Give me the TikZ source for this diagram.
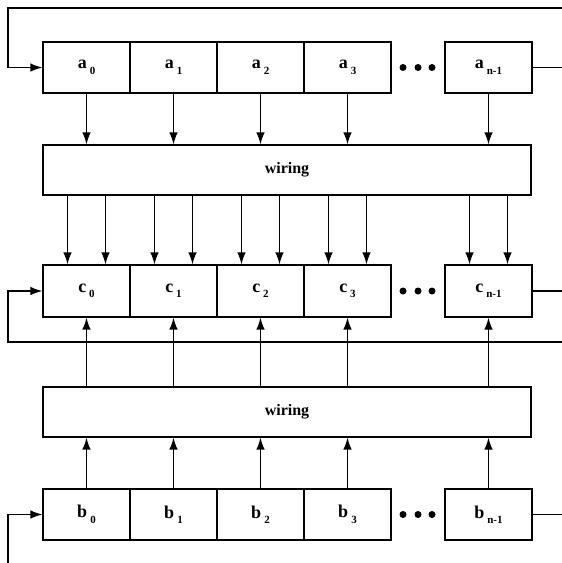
\documentclass[tikz,border=0pt]{standalone}
\usepackage{fontspec}
\setmainfont{Liberation Serif}
\usetikzlibrary{arrows.meta,calc}

% register cell label: bold letter with a lowered, spaced subscript
\newcommand{\reglab}[2]{\textbf{#1}\hspace{3pt}\raisebox{-5.5pt}{\fontsize{11}{11}\selectfont\bfseries #2}}

\begin{document}
\begin{tikzpicture}[x=1pt,y=-1pt,
  cell/.style={draw,line width=1.1pt,minimum width=87pt,minimum height=51pt,inner sep=0pt,
    font=\fontsize{18}{18}\selectfont},
  wirebox/.style={draw,line width=1.1pt,minimum width=488pt,minimum height=50pt,inner sep=0pt,
    font=\fontsize{16}{16}\selectfont\bfseries},
  arr/.style={line width=1.5pt,-{Latex[length=12pt,width=8.5pt]}},
  wire/.style={line width=1.4pt},
  dot/.style={fill,circle,inner sep=0pt,minimum size=7pt}]
\useasboundingbox (0,0) rectangle (562,563);

% ---- register a ----
\node[cell] (a0) at (86.5,67.5) {\reglab{a}{0}};
\node[cell] (a1) at (173.5,67.5) {\reglab{a}{1}};
\node[cell] (a2) at (260.5,67.5) {\reglab{a}{2}};
\node[cell] (a3) at (347.5,67.5) {\reglab{a}{3}};
\node[cell] (an) at (488.5,67.5) {\reglab{a}{n-1}};
\node[dot] (ad1) at (403,67.5) {};
\node[dot] (ad2) at (418,67.5) {};
\node[dot] (ad3) at (432,67.5) {};

% ---- wiring a -> c ----
\node[wirebox] (w1) at (287,170) {wiring};

% ---- register c ----
\node[cell,minimum height=52pt] (c0) at (86.5,291) {\reglab{c}{0}};
\node[cell,minimum height=52pt] (c1) at (173.5,291) {\reglab{c}{1}};
\node[cell,minimum height=52pt] (c2) at (260.5,291) {\reglab{c}{2}};
\node[cell,minimum height=52pt] (c3) at (347.5,291) {\reglab{c}{3}};
\node[cell,minimum height=52pt] (cn) at (488.5,291) {\reglab{c}{n-1}};
\node[dot] (cd1) at (403,291) {};
\node[dot] (cd2) at (418,291) {};
\node[dot] (cd3) at (432,291) {};

% ---- wiring b -> c ----
\node[wirebox] (w2) at (287,412) {wiring};

% ---- register b ----
\node[cell] (b0) at (86.5,514.5) {\reglab{b}{0}};
\node[cell] (b1) at (173.5,514.5) {\reglab{b}{1}};
\node[cell] (b2) at (260.5,514.5) {\reglab{b}{2}};
\node[cell] (b3) at (347.5,514.5) {\reglab{b}{3}};
\node[cell] (bn) at (488.5,514.5) {\reglab{b}{n-1}};
\node[dot] (bd1) at (403,514.5) {};
\node[dot] (bd2) at (418,514.5) {};
\node[dot] (bd3) at (432,514.5) {};

% a cells feed the first wiring block
\foreach \c in {a0,a1,a2,a3,an}
  \draw[arr] (\c.south) -- (\c.south |- w1.north);

% each c cell receives two wires from the first wiring block
\foreach \c in {c0,c1,c2,c3,cn} {
  \coordinate (\c l) at ([xshift=-19pt]\c.north);
  \coordinate (\c r) at ([xshift=19pt]\c.north);
  \draw[arr] (w1.south -| \c l) -- (\c l);
  \draw[arr] (w1.south -| \c r) -- (\c r);
}

% second wiring block feeds c from below
\foreach \c in {c0,c1,c2,c3,cn}
  \draw[arr] (w2.north -| \c.south) -- (\c.south);

% b cells feed the second wiring block
\foreach \c in {b0,b1,b2,b3,bn}
  \draw[arr] (\c.north) -- (\c.north |- w2.south);

% feedback paths and outputs
\coordinate (atop) at (562,8);
\coordinate (aleft) at (8,8);
\draw[arr] (atop) -- (aleft) |- (a0.west);
\draw[wire] (an.east) -- (an.east -| atop);

\coordinate (cret) at (562,342);
\coordinate (cleft) at (8,342);
\draw[arr] (cret) -- (cleft) |- (c0.west);
\draw[wire] (cn.east) -- (cn.east -| cret);

\coordinate (bin) at (8,563);
\draw[arr] (bin) |- (b0.west);
\draw[wire] (bn.east) -- (bn.east -| atop);
\end{tikzpicture}
\end{document}
